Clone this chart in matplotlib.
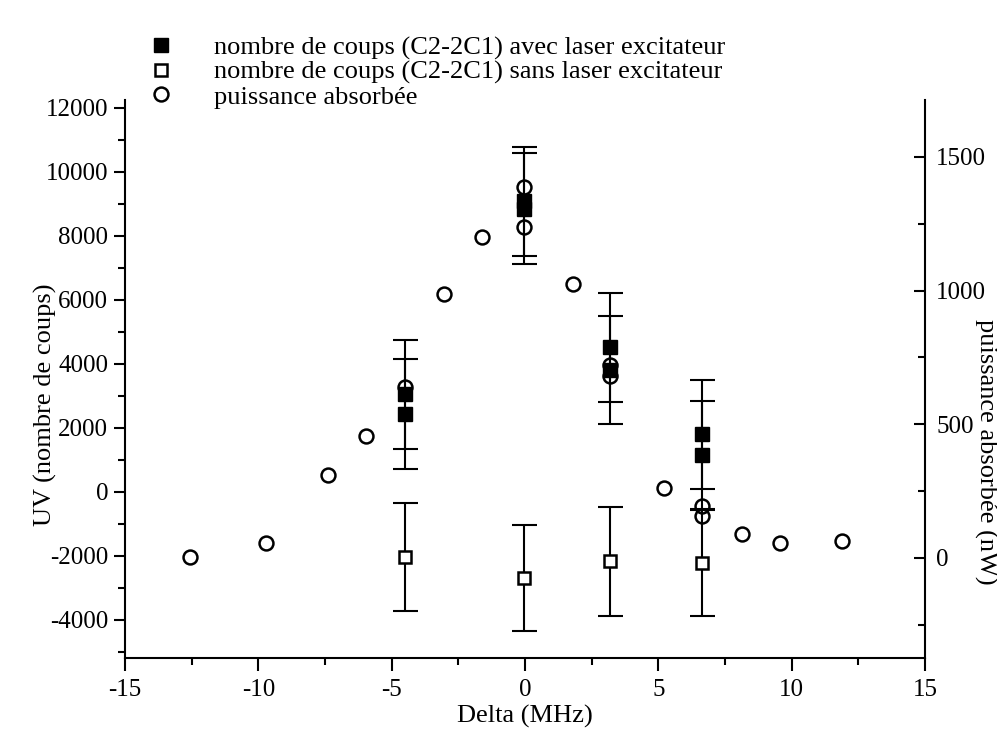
import numpy as np
import matplotlib.pyplot as plt
from matplotlib.ticker import MultipleLocator

plt.rcParams['font.family'] = ['Liberation Serif', 'DejaVu Serif']
plt.rcParams['font.size'] = 18
plt.rcParams['axes.unicode_minus'] = False

# counts (C2-2C1) with the excitation laser -> filled squares
delta_avec = [-4.5, -4.5, -0.05, -0.05, 3.2, 3.2, 6.65, 6.65]
coups_avec = [3050, 2450, 9080, 8850, 4520, 3810, 1800, 1160]
err_avec = [1700, 1720, 1700, 1730, 1700, 1690, 1700, 1690]

# counts without the excitation laser -> open squares
delta_sans = [-4.5, -0.05, 3.2, 6.65]
coups_sans = [-2030, -2690, -2170, -2220]
err_sans = [1690, 1650, 1700, 1660]

# absorbed power (nW), right axis -> open circles
delta_puiss = [-12.55, -9.7, -7.4, -5.95, -4.5, -3.05, -1.6, -0.05, -0.05,
               1.8, 3.2, 3.2, 5.2, 6.65, 6.65, 8.15, 9.55, 11.9]
puissance = [5, 56, 310, 456, 640, 987, 1200, 1387, 1238,
             1025, 722, 681, 262, 194, 157, 90, 56, 64]

labels = ['nombre de coups (C2-2C1) avec laser excitateur',
          'nombre de coups (C2-2C1) sans laser excitateur',
          'puissance absorbée']

fig = plt.figure(figsize=(9.97, 7.31), dpi=100)
ax = fig.add_axes([0.1254, 0.0999, 0.8024, 0.7633])
ax2 = ax.twinx()

# error bars first, markers on top
ax.errorbar(delta_avec, coups_avec, yerr=err_avec, fmt='none', ecolor='black',
            elinewidth=1.5, capsize=9, capthick=1.5)
ax.errorbar(delta_sans, coups_sans, yerr=err_sans, fmt='none', ecolor='black',
            elinewidth=1.5, capsize=9, capthick=1.5)
h1, = ax.plot(delta_avec, coups_avec, 's', color='black', ms=9.5, zorder=3)
h2, = ax.plot(delta_sans, coups_sans, 's', mfc='white', mec='black', mew=1.8,
              ms=9, zorder=3)
h3, = ax2.plot(delta_puiss, puissance, 'o', mfc='none', mec='black', mew=1.8,
               ms=10)

ax.set_xlim(-15, 15)
ax.set_ylim(-5190, 12250)
ax2.set_ylim(-374, 1713)

ax.xaxis.set_major_locator(MultipleLocator(5))
ax.xaxis.set_minor_locator(MultipleLocator(2.5))
ax.yaxis.set_major_locator(MultipleLocator(2000))
ax.yaxis.set_minor_locator(MultipleLocator(1000))
ax2.yaxis.set_major_locator(MultipleLocator(500))
ax2.yaxis.set_minor_locator(MultipleLocator(250))

ax.tick_params(axis='x', which='major', direction='out', length=9, width=1.5, pad=6)
ax.tick_params(axis='x', which='minor', direction='out', length=5, width=1.5)
ax.tick_params(axis='y', which='major', direction='out', length=8, width=1.5, pad=4)
ax.tick_params(axis='y', which='minor', direction='out', length=5, width=1.5)
ax2.tick_params(axis='y', which='major', direction='in', length=8, width=1.5, pad=8)
ax2.tick_params(axis='y', which='minor', direction='in', length=5, width=1.5)

for a in (ax, ax2):
    a.spines['top'].set_visible(False)
    for s in a.spines.values():
        s.set_linewidth(1.5)
ax.spines['right'].set_visible(False)
ax2.spines['left'].set_visible(False)
ax2.spines['bottom'].set_visible(False)

ax.set_xlabel('Delta (MHz)', labelpad=3, fontsize=19)
ax.set_ylabel('UV (nombre de coups)', fontsize=19)
ax.yaxis.set_label_coords(-0.085, 0.453)
ax2.set_ylabel('puissance absorbée (nW)', rotation=270, va='center', ha='center',
               fontsize=19)
ax2.yaxis.set_label_coords(1.076, 0.37)

fig.legend([h1, h2, h3], labels, loc='upper left', bbox_to_anchor=(0.148, 0.951),
           frameon=False, borderpad=0, borderaxespad=0, handlelength=1.0,
           handletextpad=1.5, labelspacing=0.03, fontsize=19)

fig.savefig('out.png', dpi=100)
